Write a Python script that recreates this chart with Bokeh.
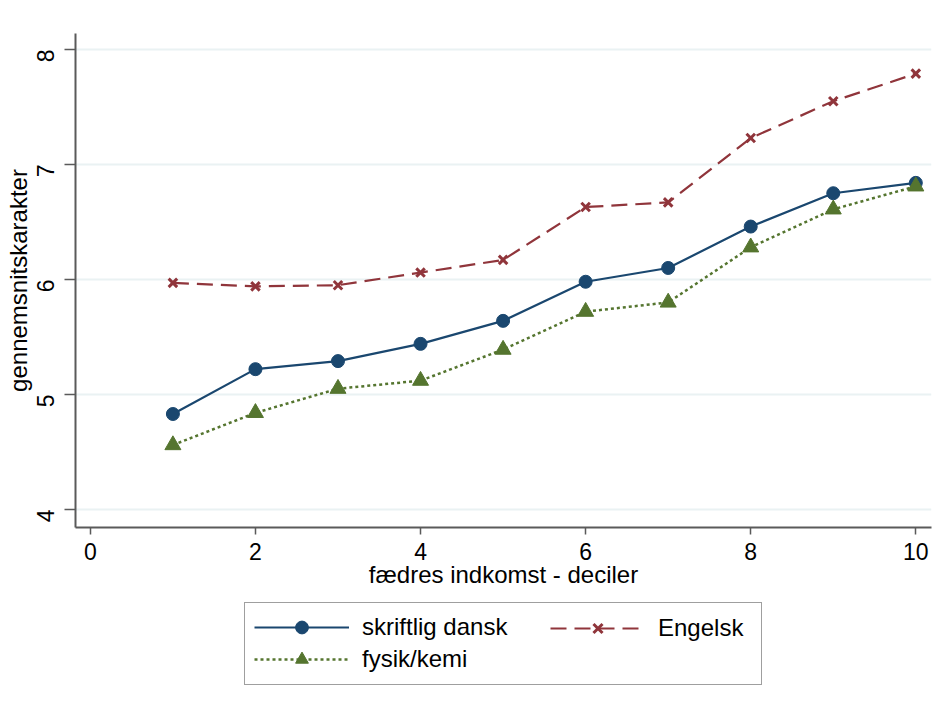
import math
from bokeh.plotting import figure
from bokeh.layouts import column
from bokeh.models import Legend, LegendItem, FixedTicker, Range1d
from bokeh.embed import file_html
from bokeh.resources import INLINE

deciles = [1, 2, 3, 4, 5, 6, 7, 8, 9, 10]
skriftlig_dansk = [4.83, 5.22, 5.29, 5.44, 5.64, 5.98, 6.10, 6.46, 6.75, 6.84]
engelsk = [5.97, 5.94, 5.95, 6.06, 6.17, 6.63, 6.67, 7.23, 7.55, 7.79]
fysik_kemi = [4.56, 4.84, 5.05, 5.12, 5.39, 5.72, 5.80, 6.28, 6.61, 6.81]
x_ticks = [0, 2, 4, 6, 8, 10]
y_ticks = [4, 5, 6, 7, 8]

NAVY = "#1a476f"
MAROON = "#90353b"
GREEN = "#55752f"
FONT = "Liberation Sans"

STYLE_DANSK = dict(line_color=NAVY, line_width=2.2)
STYLE_ENG = dict(line_color=MAROON, line_width=2.2, line_dash="16 8")
STYLE_FYS = dict(line_color=GREEN, line_width=2.5, line_dash="3 3")
MK_DANSK = dict(marker="circle", size=13, fill_color=NAVY, line_color=NAVY)
MK_ENG = dict(marker="x", size=12, line_color=MAROON, line_width=3)
MK_FYS = dict(marker="triangle", size=16, fill_color=GREEN, line_color=GREEN)

p = figure(width=934, height=598, output_backend="svg", toolbar_location=None,
           x_range=Range1d(-0.18, 10.19), y_range=Range1d(3.843, 8.139),
           min_border_left=75, min_border_right=3, min_border_top=33,
           min_border_bottom=71)
p.outline_line_color = None
p.background_fill_color = "white"
p.border_fill_color = "white"

p.xgrid.visible = False
p.ygrid.grid_line_color = "#eaf2f3"
p.ygrid.grid_line_width = 2

for ax in (p.xaxis[0], p.yaxis[0]):
    ax.axis_line_color = "#5a5a5a"
    ax.axis_line_width = 2
    ax.major_tick_line_color = "#5a5a5a"
    ax.major_tick_line_width = 1.5
    ax.minor_tick_line_color = None
    ax.major_tick_in = 0
    ax.major_label_text_font = FONT
    ax.major_label_text_font_size = "23px"
    ax.major_label_text_color = "black"
    ax.axis_label_text_font = FONT
    ax.axis_label_text_font_size = "24px"
    ax.axis_label_text_font_style = "normal"
    ax.axis_label_text_color = "black"

p.xaxis.ticker = FixedTicker(ticks=x_ticks)
p.yaxis.ticker = FixedTicker(ticks=y_ticks)
p.xaxis.major_tick_out = 7
p.yaxis.major_tick_out = 11
p.xaxis.major_label_standoff = 8
p.xaxis.axis_label_standoff = -2
p.yaxis.major_label_standoff = 19
p.yaxis.axis_label_standoff = -6
p.yaxis.major_label_orientation = math.pi / 2
p.xaxis.axis_label = "fædres indkomst - deciler"
p.yaxis.axis_label = "gennemsnitskarakter"

p.line(deciles, skriftlig_dansk, **STYLE_DANSK)
p.scatter(deciles, skriftlig_dansk, **MK_DANSK)
p.line(deciles, engelsk, **STYLE_ENG)
p.scatter(deciles, engelsk, **MK_ENG)
p.line(deciles, fysik_kemi, **STYLE_FYS)
p.scatter(deciles, fysik_kemi, **MK_FYS)

# Legend strip below the chart (its frame aligns with the chart's frame)
lg = figure(width=934, height=100, output_backend="svg", toolbar_location=None,
            x_range=Range1d(0, 1), y_range=Range1d(0, 1),
            min_border_left=0, min_border_right=0, min_border_top=0,
            min_border_bottom=0)
lg.axis.visible = False
lg.grid.visible = False
lg.outline_line_color = None
lg.border_fill_color = "white"

# same series, out of this strip's view: only used for the legend keys
r_l1 = lg.line(deciles, skriftlig_dansk, **STYLE_DANSK)
r_m1 = lg.scatter(deciles, skriftlig_dansk, **MK_DANSK)
r_l2 = lg.line(deciles, engelsk, **STYLE_ENG)
r_m2 = lg.scatter(deciles, engelsk, **MK_ENG)
r_l3 = lg.line(deciles, fysik_kemi, **STYLE_FYS)
r_m3 = lg.scatter(deciles, fysik_kemi, **MK_FYS)


def make_legend(items, loc, pad, label_width, border):
    L = Legend(items=items, location=loc, orientation="vertical")
    L.label_text_font = FONT
    L.label_text_font_size = "24px"
    L.label_text_color = "black"
    L.glyph_width = 95
    L.glyph_height = 32
    L.label_height = 32
    L.label_width = label_width
    L.label_standoff = 13
    L.spacing = 0
    L.padding = pad
    L.margin = 0
    if border:
        L.border_line_color = "#404040"
        L.border_line_width = 1.5
        L.background_fill_color = "white"
        L.background_fill_alpha = 1
    else:
        L.border_line_color = None
        L.background_fill_alpha = 0
    return L


leg_a = make_legend([
    LegendItem(label="skriftlig dansk", renderers=[r_l1, r_m1]),
    LegendItem(label="fysik/kemi", renderers=[r_l3, r_m3]),
], (169, 13), dict(left=9, right=9, top=8, bottom=9), 390, True)
leg_b = make_legend([
    LegendItem(label="Engelsk", renderers=[r_l2, r_m2]),
], (475, 54), 0, 20, False)
lg.add_layout(leg_a, "center")
lg.add_layout(leg_b, "center")

layout = column(p, lg, spacing=0)
open("out.html", "w").write(file_html(layout, INLINE))
